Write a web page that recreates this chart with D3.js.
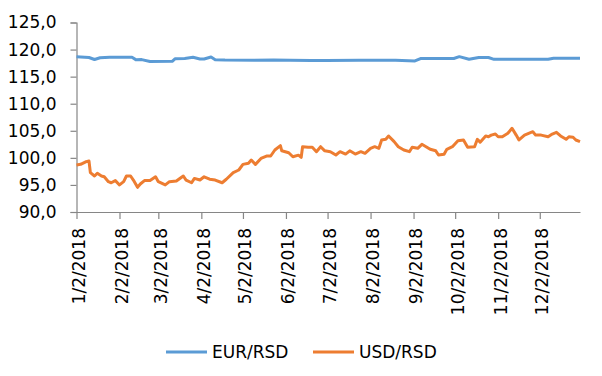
<!DOCTYPE html>
<html>
<head>
<meta charset="utf-8">
<script src="https://cdn.jsdelivr.net/npm/d3@7"></script>
<style>
	body { margin: 0; background: #fff; }
	svg text { font-family: "DejaVu Sans", sans-serif; fill: #000; }
</style>
</head>
<body>
<svg id="chart" width="602" height="376"></svg>
<script>
// values
const eurDates = ["2018-01-02","2018-01-11","2018-01-15","2018-01-19","2018-01-26","2018-02-11","2018-02-14","2018-02-18","2018-02-24","2018-03-12","2018-03-14","2018-03-21","2018-03-27","2018-04-01","2018-04-04","2018-04-09","2018-04-12","2018-04-19","2018-05-10","2018-05-24","2018-06-05","2018-06-20","2018-07-01","2018-07-25","2018-08-20","2018-09-03","2018-09-07","2018-10-01","2018-10-05","2018-10-12","2018-10-19","2018-10-26","2018-10-30","2018-12-08","2018-12-12","2018-12-31"];
const eurValues = [118.69,118.54,118.17,118.48,118.57,118.57,118.10,118.15,117.80,117.83,118.30,118.37,118.57,118.26,118.26,118.63,118.13,118.07,118.02,118.08,118.05,118.00,117.98,118.03,118.02,117.90,118.35,118.35,118.69,118.20,118.54,118.54,118.20,118.20,118.40,118.40];

const usdDates = ["2018-01-02","2018-01-05","2018-01-09","2018-01-11","2018-01-12","2018-01-15","2018-01-17","2018-01-20","2018-01-22","2018-01-25","2018-01-27","2018-01-30","2018-02-02","2018-02-05","2018-02-07","2018-02-10","2018-02-12","2018-02-15","2018-02-17","2018-02-20","2018-02-24","2018-02-28","2018-03-02","2018-03-07","2018-03-10","2018-03-15","2018-03-20","2018-03-22","2018-03-26","2018-03-28","2018-04-01","2018-04-04","2018-04-08","2018-04-12","2018-04-17","2018-04-20","2018-04-25","2018-04-29","2018-05-02","2018-05-06","2018-05-08","2018-05-11","2018-05-15","2018-05-19","2018-05-22","2018-05-25","2018-05-29","2018-05-30","2018-06-04","2018-06-07","2018-06-11","2018-06-13","2018-06-14","2018-06-18","2018-06-21","2018-06-24","2018-06-27","2018-06-30","2018-07-04","2018-07-08","2018-07-11","2018-07-15","2018-07-18","2018-07-22","2018-07-26","2018-07-29","2018-08-02","2018-08-05","2018-08-08","2018-08-10","2018-08-13","2018-08-15","2018-08-19","2018-08-22","2018-08-26","2018-08-30","2018-09-01","2018-09-05","2018-09-08","2018-09-11","2018-09-14","2018-09-18","2018-09-20","2018-09-24","2018-09-26","2018-09-30","2018-10-04","2018-10-08","2018-10-11","2018-10-16","2018-10-18","2018-10-20","2018-10-24","2018-10-26","2018-10-28","2018-10-31","2018-11-02","2018-11-05","2018-11-09","2018-11-12","2018-11-15","2018-11-17","2018-11-21","2018-11-24","2018-11-27","2018-11-29","2018-12-03","2018-12-08","2018-12-11","2018-12-14","2018-12-17","2018-12-21","2018-12-23","2018-12-26","2018-12-28","2018-12-31"];
const usdValues = [98.68,98.8,99.3,99.42,97.26,96.65,97.15,96.65,96.5,95.6,95.4,95.8,95.0,95.6,96.65,96.65,95.9,94.55,95.17,95.8,95.8,96.5,95.6,95.0,95.6,95.72,96.65,95.9,95.4,96.2,95.9,96.5,96.05,95.9,95.4,96.05,97.26,97.76,98.8,99.0,99.6,98.8,99.9,100.34,100.34,101.45,102.25,101.3,100.95,100.2,100.5,100.1,102.06,101.95,101.95,101.14,102.06,101.3,101.14,100.53,101.14,100.7,101.3,100.7,101.14,100.84,101.76,102.06,101.76,103.3,103.43,104.04,102.99,102.06,101.45,101.14,101.95,101.76,102.5,102.06,101.58,101.3,100.53,100.66,101.58,102.06,103.17,103.3,101.95,102.06,103.43,102.9,104.05,103.9,104.2,104.4,103.9,103.9,104.53,105.46,104.2,103.3,104.2,104.53,104.83,104.2,104.2,103.9,104.4,104.72,104.04,103.43,103.9,103.8,103.3,102.99];

const yTicks = [90,95,100,105,110,115,120,125];
const xTicks = ["2018-01-02","2018-02-02","2018-03-02","2018-04-02","2018-05-02","2018-06-02","2018-07-02","2018-08-02","2018-09-02","2018-10-02","2018-11-02","2018-12-02"];

const seriesNames = ["EUR/RSD","USD/RSD"];
const colors = ["#5B9BD5","#ED7D31"];

const parse = d3.timeParse("%Y-%m-%d");
const fmtTick = d => (d.getMonth()+1) + "/" + d.getDate() + "/" + d.getFullYear();

const svg = d3.select("#chart");

const x = d3.scaleTime()
	.domain([parse("2018-01-02"), parse("2018-12-31")])
	.range([76.5, 580]);
const y = d3.scaleLinear().domain([90,125]).range([212, 22.5]);

// axes
const axisColor = "#868686";

const yAxis = svg.append("g")
	.attr("transform", "translate(76.5,0)")
	.call(d3.axisLeft(y).tickValues(yTicks).tickSize(6).tickPadding(14)
		.tickFormat(d => d3.format(".1f")(d).replace(".", ",")));
yAxis.select(".domain").attr("stroke", axisColor).attr("stroke-width", 1.2);
yAxis.selectAll(".tick line").attr("stroke", axisColor).attr("stroke-width", 1.2);
yAxis.selectAll(".tick text").style("font-size", "17px").attr("fill", "#000");

const xAxis = svg.append("g")
	.attr("transform", "translate(0,212)")
	.call(d3.axisBottom(x).tickValues(xTicks.map(parse)).tickSize(7).tickSizeOuter(0).tickFormat(fmtTick));
xAxis.select(".domain").attr("stroke", axisColor).attr("stroke-width", 1.2);
xAxis.selectAll(".tick line").attr("stroke", axisColor).attr("stroke-width", 1.2);
xAxis.selectAll(".tick text")
	.style("font-size", "17px")
	.attr("fill", "#000")
	.attr("text-anchor", "end")
	.attr("transform", "translate(2,16) rotate(-90)")
	.attr("x", 0).attr("y", 0).attr("dy", "0.35em");

// lines
const line = d3.line().x(d => x(d.date)).y(d => y(d.value));
const series = [
	eurDates.map((d, i) => ({date: parse(d), value: eurValues[i]})),
	usdDates.map((d, i) => ({date: parse(d), value: usdValues[i]}))
];
series.forEach((s, i) => {
	svg.append("path")
		.datum(s)
		.attr("fill", "none")
		.attr("stroke", colors[i])
		.attr("stroke-width", 3)
		.attr("stroke-linejoin", "round")
		.attr("d", line);
});

// legend
const legendX = [166, 313];
const legend = svg.append("g").attr("transform", "translate(0,352)");
seriesNames.forEach((name, i) => {
	legend.append("line")
		.attr("x1", legendX[i]).attr("x2", legendX[i] + 41)
		.attr("y1", 0).attr("y2", 0)
		.attr("stroke", colors[i]).attr("stroke-width", 3);
	legend.append("text")
		.attr("x", legendX[i] + 46).attr("y", 0).attr("dy", "0.35em")
		.style("font-size", "17px")
		.text(name);
});
</script>
</body>
</html>
